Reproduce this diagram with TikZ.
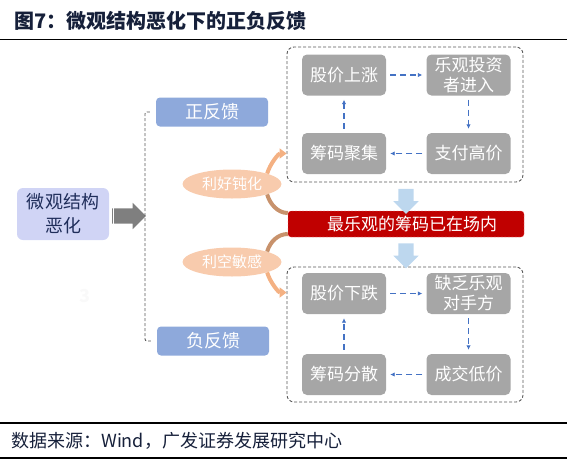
\documentclass[tikz,border=0pt]{standalone}
\usepackage{fontspec}
\setmainfont{Noto Sans CJK SC}
\usetikzlibrary{positioning,arrows.meta,shapes.arrows,shapes.geometric}
\definecolor{ink}{RGB}{22,32,58}
\definecolor{navy}{RGB}{31,45,90}
\definecolor{lavender}{RGB}{208,212,245}
\definecolor{arrowgray}{RGB}{127,127,127}
\definecolor{cellgray}{RGB}{166,166,166}
\definecolor{flowblue}{RGB}{68,114,196}
\definecolor{fbblue}{RGB}{142,169,219}
\definecolor{peach}{RGB}{248,203,173}
\definecolor{lightorange}{RGB}{244,177,131}
\definecolor{tanbrown}{RGB}{200,146,108}
\definecolor{bannerred}{RGB}{192,0,0}
\definecolor{paleblue}{RGB}{189,215,238}
\definecolor{zonegray}{RGB}{89,89,89}
\newcommand*{\fsize}[2]{\fontsize{#1}{#2}\selectfont}
\tikzset{%
  cell/.style={fill=cellgray, rounded corners=5pt, minimum width=84pt, minimum height=41pt,
    inner sep=0pt, text=white, align=center, font=\fsize{17}{20}},% gray step of a loop
  cycleflow/.style={draw=flowblue, line width=1.3pt, dash pattern=on 6pt off 4pt,
    shorten <=4pt, shorten >=4pt, -{Latex[length=4.5pt,width=4.5pt]}},% dashed loop arrow
  zone/.style={draw=zonegray, line width=0.9pt, dash pattern=on 3pt off 2pt,
    rounded corners=7pt, minimum width=236pt, minimum height=135pt},% frame round a loop
  feedback/.style={fill=fbblue, rounded corners=4pt, minimum width=112pt,
    minimum height=29pt, text=white, font=\fsize{18}{18}},
  mood/.style={ellipse, fill=peach, minimum width=99pt, minimum height=29pt,
    inner sep=0pt, text=white, font=\fsize{15}{15}},
  swing/.style={line width=4pt},% thick curved arrows at the moods
  blockarrow/.style={single arrow, inner xsep=0pt, single arrow head indent=0pt},
  stripe/.style={white, line width=0.8pt}
}

\begin{document}
\begin{tikzpicture}[x=1pt, y=-1pt]
\useasboundingbox (0,0) rectangle (567,461);
\node[anchor=west, inner sep=0pt, text=ink, font=\fsize{20}{20}\bfseries] (title) at (14,21) {图7：微观结构恶化下的正负反馈};
\draw[line width=1.5pt] (0,39.5) -- (567,39.5);
\draw[line width=1.2pt] (0,423) -- (567,423);
\draw[line width=1.2pt] (0,458) -- (567,458);
\node[anchor=west, inner sep=0pt, text=ink, font=\fsize{18}{18}] (source) at (11,441) {数据来源：Wind，广发证券发展研究中心};

\node[fill=lavender, rounded corners=6pt, minimum width=92pt, minimum height=52pt,
  text=navy, align=center, font=\fsize{18}{24}] (micro) at (63,214) {微观结构\\恶化};
\node[blockarrow, fill=arrowgray, inner ysep=7.5pt, minimum height=34pt,
  single arrow head extend=5.5pt] (push) at (125,216) {};
\draw[stripe] (111,208) -- (111,224);
\draw[stripe] (113.5,208) -- (113.5,224);
\node[text=gray!5, font=\fsize{18}{18}\bfseries] (mark) at (85,296) {3};

\node[feedback] (pos) at (212,112) {正反馈};
\node[feedback] (neg) at (213,341) {负反馈};
\draw[zonegray, line width=0.9pt, dash pattern=on 3pt off 2pt, rounded corners=2pt]
  ([xshift=-6pt]pos.west) -| (145,214) |- ([xshift=-6pt]neg.west);

\node[mood] (ease) at (232,184) {利好钝化};
\node[mood] (fear) at (232,262) {利空敏感};

\node[zone] (upzone) at (405,114.5) {};
\node[zone] (downzone) at (405,334.5) {};
\node[fill=bannerred, draw=red!55, dash pattern=on 2pt off 1.5pt, rounded corners=3pt,
  minimum width=236pt, minimum height=26pt, text=white, font=\fsize{17}{17}] (crowd)
  at (406,224) {\hspace*{12pt}最乐观的筹码已在场内};

\node[cell] (rise) at (344,75) {股价上涨};
\node[cell] (enter) at (468.5,75) {乐观投资\\者进入};
\node[cell] (pay) at (468.5,153.5) {支付高价};
\node[cell] (gather) at (344,153.5) {筹码聚集};
\node[cell] (fall) at (344,293.5) {股价下跌};
\node[cell] (lack) at (468.5,293.5) {缺乏乐观\\对手方};
\node[cell] (cheap) at (468.5,374.5) {成交低价};
\node[cell] (scatter) at (344,374.5) {筹码分散};

%%%%
\draw[cycleflow] (rise) -- (enter);
\draw[cycleflow] (enter) -- (pay);
\draw[cycleflow] (pay) -- (gather);
\draw[cycleflow] (gather) -- (rise);
\draw[cycleflow] (fall) -- (lack);
\draw[cycleflow] (lack) -- (cheap);
\draw[cycleflow] (cheap) -- (scatter);
\draw[cycleflow] (scatter) -- (fall);
%%%%

\node[blockarrow, fill=paleblue, rotate=-90, inner ysep=7.5pt, minimum height=25pt,
  single arrow head extend=5pt] (drop1) at (406,197.5) {};
\node[blockarrow, fill=paleblue, rotate=-90, inner ysep=7.5pt, minimum height=25pt,
  single arrow head extend=5pt] (drop2) at (406,252) {};
\draw[stripe] (398,187.5) -- (414,187.5);
\draw[stripe] (398,242) -- (414,242);

\draw[swing, lightorange, -{Triangle[length=7pt,width=10pt]}] (ease.north east)
  .. controls +(3,-10) and +(-8,0) .. ([yshift=-39pt]upzone.west);
\draw[swing, tanbrown] (ease.south east)
  .. controls +(3,10) and +(-10,0) .. ([yshift=11pt]crowd.west);
\draw[swing, tanbrown] ([yshift=-10pt]crowd.west)
  .. controls +(-10,0) and +(3,-10) .. (fear.north east);
\draw[swing, lightorange, -{Triangle[length=7pt,width=10pt]}] (fear.south east)
  .. controls +(3,10) and +(-8,0) .. ([yshift=42pt]downzone.west);
\end{tikzpicture}
\end{document}
